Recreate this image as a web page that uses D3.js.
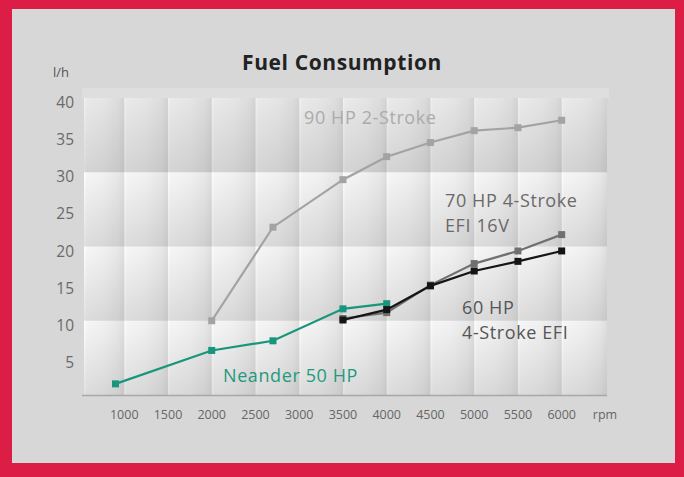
<!DOCTYPE html>
<html><head><meta charset="utf-8">
<script src="https://cdn.jsdelivr.net/npm/d3@7"></script>
<style>html,body{margin:0;padding:0;background:#dc1e46;}svg{display:block;}</style>
</head><body>
<svg id="c" width="684" height="477"></svg>
<script>
const xTicks = [1000,1500,2000,2500,3000,3500,4000,4500,5000,5500,6000];
const yTicks = [5,10,15,20,25,30,35,40];
const rpm90 = [2000,2700,3500,4000,4500,5000,5500,6000];
const val90 = [10.0,22.6,29.0,32.1,34.0,35.6,36.0,37.0];
const rpm70 = [3500,4000,4500,5000,5500,6000];
const val70 = [10.3,11.1,14.8,17.7,19.4,21.6];
const rpm60 = [3500,4000,4500,5000,5500,6000];
const val60 = [10.1,11.5,14.7,16.7,18.0,19.4];
const rpm50 = [900,2000,2700,3500,4000];
const val50 = [1.5,6.0,7.3,11.6,12.3];
const seriesNames = ["90 HP 2-Stroke","70 HP 4-Stroke|EFI 16V","60 HP|4-Stroke EFI","Neander 50 HP"];

const svg = d3.select("#c");
const font = "'Open Sans', 'Noto Sans', sans-serif";
// frame
svg.append("rect").attr("x",0).attr("y",0).attr("width",684).attr("height",477).attr("fill","#dc1e46");
svg.append("rect").attr("x",12).attr("y",9).attr("width",663).attr("height",454).attr("fill","#d7d7d7");

const x = d3.scaleLinear().domain([540,6518]).range([84,607]);
const y = d3.scaleLinear().domain([0,40]).range([395,98]);

const defs = svg.append("defs");
const cg = defs.append("linearGradient").attr("id","colGrad").attr("x1",0).attr("x2",1).attr("y1",0).attr("y2",0);
[["0%","#ffffff"],["6%","#f6f6f6"],["50%","#f1f1f1"],["85%","#e8e8e8"],["100%","#dedede"]].forEach(s=>
  cg.append("stop").attr("offset",s[0]).attr("stop-color",s[1]));
const mk = (id,o1,o2)=>{
  const g = defs.append("linearGradient").attr("id",id).attr("x1",0).attr("x2",0).attr("y1",0).attr("y2",1);
  g.append("stop").attr("offset","0%").attr("stop-color","#000").attr("stop-opacity",o1);
  g.append("stop").attr("offset","100%").attr("stop-color","#000").attr("stop-opacity",o2);
};
mk("band0",0.05,0.14);
mk("band1",0.0,0.11);

// light strip above plot
svg.append("rect").attr("x",82).attr("y",88).attr("width",527).attr("height",10).attr("fill","#dedede");

// columns
const edges = [x.domain()[0], ...xTicks, x.domain()[1]];
const bg = svg.append("g");
for (let i=0;i<edges.length-1;i++){
  bg.append("rect").attr("x",x(edges[i])).attr("y",y(40)).attr("width",x(edges[i+1])-x(edges[i])).attr("height",y(0)-y(40)).attr("fill","url(#colGrad)");
}
const bands = [[40,30,"band0"],[30,20,"band1"],[20,10,"band1"],[10,0,"band1"]];
bands.forEach(b=>{
  bg.append("rect").attr("x",x.range()[0]).attr("y",y(b[0])).attr("width",x.range()[1]-x.range()[0]).attr("height",y(b[1])-y(b[0])).attr("fill",`url(#${b[2]})`);
});
// axis line
svg.append("line").attr("x1",82).attr("x2",607).attr("y1",y(0)+0.5).attr("y2",y(0)+0.5).attr("stroke","#a8a8a8").attr("stroke-width",1.5);

// tick labels
svg.append("g").selectAll("text").data(yTicks).join("text")
  .attr("x",74).attr("y",d=>y(d)+4).attr("text-anchor","end").attr("dominant-baseline","central")
  .attr("font-family",font).attr("font-size",15.5).attr("fill","#6a6a6a").text(d=>d);
svg.append("g").selectAll("text").data(xTicks).join("text")
  .attr("x",d=>x(d)).attr("y",414).attr("text-anchor","middle").attr("dominant-baseline","central")
  .attr("font-family",font).attr("font-size",12.5).attr("fill","#666").text(d=>d);
svg.append("text").attr("x",605).attr("y",414).attr("text-anchor","middle").attr("dominant-baseline","central")
  .attr("font-family",font).attr("font-size",12.5).attr("fill","#666").text("rpm");
svg.append("text").attr("x",61).attr("y",72).attr("text-anchor","middle").attr("dominant-baseline","central")
  .attr("font-family",font).attr("font-size",13).attr("fill","#555").text("l/h");
svg.append("text").attr("x",342).attr("y",62).attr("text-anchor","middle").attr("dominant-baseline","central")
  .attr("font-family",font).attr("font-weight","bold").attr("font-size",21).attr("letter-spacing",0.6).attr("fill","#222").text("Fuel Consumption");

// series
const series = [
  {r:rpm90,v:val90,color:"#a3a3a3"},
  {r:rpm50,v:val50,color:"#17967c"},
  {r:rpm70,v:val70,color:"#707070"},
  {r:rpm60,v:val60,color:"#151515"}
];
const line = d3.line().x(d=>x(d[0])).y(d=>y(d[1]));
series.forEach(s=>{
  const pts = s.r.map((r,i)=>[r,s.v[i]]);
  const g = svg.append("g");
  g.append("path").attr("d",line(pts)).attr("fill","none").attr("stroke",s.color).attr("stroke-width",2.2);
  g.selectAll("rect").data(pts).join("rect")
    .attr("x",d=>x(d[0])-3.5).attr("y",d=>y(d[1])-3.5).attr("width",7).attr("height",7).attr("fill",s.color);
});

// labels
const labels = [
  {t:seriesNames[0],x:304,y:117,color:"#ababab"},
  {t:seriesNames[1],x:445,y:200,color:"#6a6a6a"},
  {t:seriesNames[2],x:462,y:307,color:"#555"},
  {t:seriesNames[3],x:223,y:375,color:"#1f9a80"}
];
labels.forEach(l=>{
  l.t.split("|").forEach((ln,i)=>{
    svg.append("text").attr("x",l.x).attr("y",l.y+i*25).attr("dominant-baseline","central")
      .attr("font-family",font).attr("font-size",18).attr("letter-spacing",0.6).attr("fill",l.color).text(ln);
  });
});
</script>
</body></html>
